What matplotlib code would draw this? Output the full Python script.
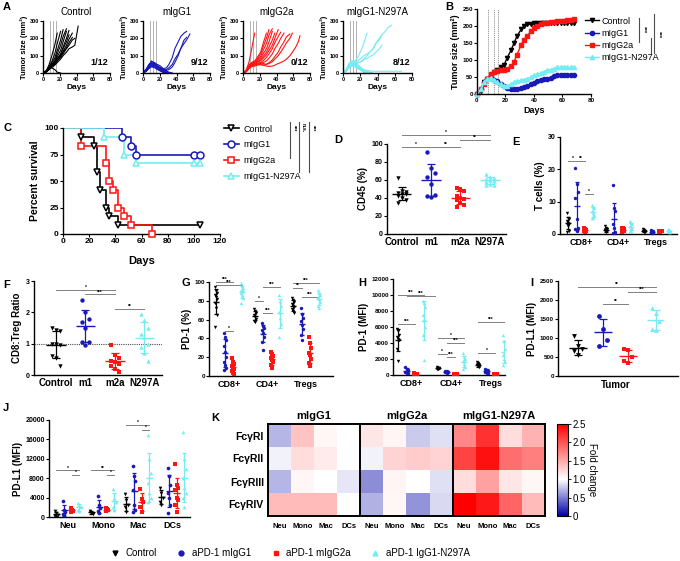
import numpy as np
import matplotlib
matplotlib.use('Agg')
import matplotlib.pyplot as plt
from matplotlib.colors import LinearSegmentedColormap
from matplotlib.lines import Line2D
from matplotlib.font_manager import FontProperties

plt.rcParams['font.family'] = ['Liberation Sans', 'DejaVu Sans']
plt.rcParams['font.weight'] = 'bold'
plt.rcParams['axes.labelweight'] = 'bold'
plt.rcParams['axes.linewidth'] = 1.0

BLACK, BLUE, RED, CYAN = 'black', '#1a1ab8', '#ff1414', '#74ecf2'
colors = [BLACK, BLUE, RED, CYAN]
markers = ['v', 'o', 's', '^']
groups = ['Control', 'mIgG1', 'mIgG2a', 'mIgG1-N297A']
short_groups = ['Control', 'm1', 'm2a', 'N297A']

# A: individual mice
a_days = [0, 4, 7, 10, 14, 17, 21, 24, 28, 31, 35, 38, 42, 45, 49, 52, 56, 59, 63, 66, 68]
a_control = [
    [0, 15, 45, 90, 160, 230],
    [0, 10, 30, 60, 110, 170, 240],
    [0, 12, 35, 55, 85, 130, 190, 250],
    [0, 8, 25, 45, 70, 110, 160, 210, 255],
    [0, 10, 28, 45, 65, 95, 130, 180, 240],
    [0, 6, 22, 38, 55, 75, 105, 150, 200, 245],
    [0, 8, 30, 50, 65, 85, 110, 140, 180, 220],
    [0, 5, 18, 35, 50, 70, 95, 125, 160, 195, 230],
    [0, 9, 25, 42, 60, 80, 100, 120, 145, 175, 205],
    [0, 7, 20, 30, 45, 60, 80, 100, 120, 140, 150, 160, 270],
    [0, 10, 25, 35, 50, 70, 90, 110, 140, 160, 190, 200],
    [0, 10, 25, 30, 20, 5, 0],
]
a_migg1 = [
    [0, 20, 45, 60, 50, 35, 15, 5, 0, 0],
    [0, 15, 40, 55, 45, 30, 20, 10, 5, 0],
    [0, 25, 50, 65, 60, 45, 25, 10, 0],
    [0, 10, 30, 40, 35, 25, 15, 5, 0],
    [0, 18, 35, 50, 55, 50, 40, 25, 10, 0],
    [0, 12, 28, 45, 40, 30, 20, 10, 0],
    [0, 20, 40, 50, 45, 35, 25, 15, 8, 0],
    [0, 15, 35, 70, 55, 40, 30, 20, 10, 5, 0],
    [0, 10, 25, 35, 30, 20, 10, 5, 0],
    [0, 20, 45, 55, 50, 40, 30, 25, 30, 50, 90, 140, 180, 210, 230, 240],
    [0, 15, 40, 50, 45, 35, 25, 20, 20, 30, 50, 80, 110, 140, 170, 190, 225],
    [0, 18, 38, 48, 40, 30, 20, 15, 15, 20, 35, 60, 100, 140, 190, 205],
]
a_migg2a = [
    [0, 20, 60, 130, 230],
    [0, 15, 45, 60, 70, 90, 120, 170, 230],
    [0, 12, 40, 55, 65, 80, 110, 150, 200, 250],
    [0, 10, 35, 50, 60, 75, 95, 130, 170, 220, 255],
    [0, 15, 40, 55, 60, 70, 85, 110, 140, 180, 240],
    [0, 8, 30, 45, 55, 65, 75, 95, 120, 150, 190, 230],
    [0, 12, 38, 52, 58, 62, 70, 85, 105, 130, 160, 200, 250],
    [0, 10, 30, 45, 50, 55, 60, 70, 90, 110, 140, 175, 210, 235],
    [0, 8, 25, 40, 45, 50, 55, 60, 70, 85, 110, 140, 170, 200, 230],
    [0, 10, 28, 40, 48, 52, 50, 45, 50, 60, 75, 95, 120, 150, 180, 210, 225],
    [0, 12, 30, 42, 50, 55, 60, 55, 50, 55, 65, 80, 100, 120, 150, 175, 200, 230],
    [0, 8, 25, 35, 40, 45, 48, 45, 40, 38, 40, 45, 55, 60, 70, 80, 100, 120, 150, 180, 215],
]
a_n297a = [
    [0, 20, 45, 60, 50, 35, 20, 10, 0],
    [0, 15, 40, 55, 45, 30, 15, 5, 0],
    [0, 25, 55, 70, 65, 50, 30, 15, 5, 0],
    [0, 10, 30, 45, 40, 30, 20, 10, 0],
    [0, 18, 40, 50, 45, 35, 25, 15, 10, 5, 0],
    [0, 12, 30, 40, 35, 25, 15, 5, 0],
    [0, 20, 45, 55, 50, 40, 30, 20, 15, 12, 10, 10, 10, 10, 10, 10, 10, 10, 10, 10, 10],
    [0, 15, 35, 50, 40, 30, 20, 10, 5, 0],
    [0, 20, 50, 65, 70, 90, 130, 170, 230],
    [0, 15, 40, 55, 60, 70, 85, 100, 110, 120, 140, 170, 190, 220],
    [0, 12, 35, 50, 55, 60, 65, 75, 85, 95, 105, 120, 140, 160],
    [0, 15, 38, 52, 55, 58, 65, 80, 100, 120, 140, 170, 200, 220, 240, 260, 275],
]
a_free = ['1/12', '9/12', '0/12', '8/12']
treat_days = [8, 12, 15]

# B: mean growth
b_days = [0, 3, 5, 7, 10, 12, 14, 17, 19, 21, 24, 26, 28, 31, 33, 35, 38, 40, 42, 45,
          47, 49, 52, 54, 56, 59, 61, 63, 66, 68]
b_control = [0, 10, 35, 45, 55, 65, 72, 78, 85, 105, 130, 150, 170, 190, 200, 205, 205, 208, 210, 210,
             210, 210, 210, 210, 210, 210, 210, 210, 210, 210]
b_migg1 = [0, 15, 35, 45, 48, 42, 38, 30, 25, 18, 16, 15, 15, 18, 22, 25, 28, 32, 38, 42,
           44, 45, 48, 52, 55, 57, 57, 57, 57, 57]
b_migg2a = [0, 15, 30, 45, 60, 65, 68, 70, 72, 75, 82, 95, 115, 145, 160, 170, 185, 195, 200, 205,
            208, 210, 212, 213, 215, 215, 216, 217, 218, 220]
b_n297a = [0, 15, 35, 45, 48, 42, 35, 28, 25, 24, 30, 35, 38, 40, 42, 45, 50, 55, 58, 62,
           65, 70, 72, 75, 78, 78, 78, 78, 78, 78]

# C: survival
c_times = [[0, 14, 24, 26, 28, 33, 35, 42, 105],
           [0, 45, 52, 56, 100, 105],
           [0, 14, 33, 35, 38, 42, 47, 52, 68],
           [0, 31, 47, 56, 100, 105]]
c_surv = [[100, 91.7, 83.3, 58.3, 41.7, 25, 16.7, 8.3, 8.3],
          [100, 91.7, 83.3, 75, 75, 75],
          [100, 83.3, 66.7, 50, 41.7, 25, 16.7, 8.3, 0],
          [100, 91.7, 75, 66.7, 66.7, 66.7]]

# D: CD45 (%)
d_cd45 = [[62, 48, 47, 46, 45, 44, 42, 40, 38, 35],
          [91, 73, 68, 63, 56, 43, 42, 41],
          [51, 50, 48, 42, 40, 39, 38, 35, 32, 30],
          [67, 63, 62, 61, 60, 59, 58, 56, 55, 54]]

# E: T cells (%)
e_subsets = ['CD8+', 'CD4+', 'Tregs']
e_cd8 = [[6.5, 5, 4.5, 4, 3.5, 3, 3, 2.5, 1, 0.5],
         [20.5, 15.5, 13, 11, 4.5, 2, 1.5, 1],
         [2, 1.5, 1.2, 1, 1, 0.8, 0.8, 0.6],
         [9, 8.5, 8, 7, 6.5, 6, 5, 5]]
e_cd4 = [[2.5, 2, 1.5, 1.2, 1, 1, 0.8, 0.6],
         [15, 8, 7, 3, 2, 0.5, 0.3, 0.2],
         [2, 1.8, 1.5, 1.2, 1, 0.8, 0.6],
         [4, 3.5, 3, 2.5, 2, 1.5, 1, 0.8]]
e_treg = [[1.5, 1.2, 1, 0.8, 0.7, 0.5],
          [1.2, 1, 0.8, 0.6, 0.5, 0.4],
          [1, 0.9, 0.8, 0.7, 0.6],
          [1.5, 1.2, 1, 0.8, 0.6, 0.5]]

# F: CD8:Treg ratio
f_ratio = [[1.5, 1.45, 1.4, 1.0, 1.0, 0.95, 0.6, 0.55, 0.3],
           [2.4, 2.0, 1.8, 1.7, 1.5, 1.05, 1.05, 0.97],
           [0.95, 0.65, 0.55, 0.45, 0.4, 0.35, 0.3, 0.2, 0.1],
           [1.95, 1.75, 1.5, 1.3, 1.2, 1.0, 0.9, 0.7, 0.45]]

# G: PD-1 (%)
g_cd8 = [[95, 90, 88, 86, 84, 82, 78, 72, 65, 52],
         [46, 42, 38, 32, 26, 20, 15, 12, 8, 6],
         [19, 15, 13, 11, 9, 7, 5, 3, 2],
         [99, 96, 94, 92, 91, 90, 88, 86, 83, 78]]
g_cd4 = [[71, 69, 67, 65, 63, 61, 59, 57],
         [56, 53, 51, 49, 46, 42, 36, 28],
         [26, 23, 21, 19, 17, 15, 12, 9],
         [86, 80, 74, 68, 62, 55, 42]]
g_treg = [[83, 81, 79, 77, 75, 73, 71, 69, 67],
          [72, 66, 62, 58, 54, 50, 44, 38],
          [41, 35, 30, 25, 22, 18, 14, 11],
          [91, 88, 86, 84, 82, 79, 75, 72]]

# H: PD-1 (MFI)
h_cd8 = [[5800, 5500, 5000, 4800, 4500, 4400, 3200, 1700],
         [1000, 800, 600, 400, 300, 200],
         [200, 150, 100, 80],
         [9200, 9000, 8500, 7500, 7000, 6000, 5000, 1900]]
h_cd4 = [[1000, 900, 850, 800, 700],
         [500, 450, 400, 350, 300],
         [150, 120, 100, 80],
         [2700, 2300, 2000, 1700, 1400, 1000, 700]]
h_treg = [[1600, 1450, 1300, 1200, 1100, 1000],
          [800, 650, 500, 400, 300, 200],
          [120, 100, 80],
          [5000, 4200, 3200, 2500, 2000, 1600, 1300]]

# I: PD-L1 (MFI) on tumor
i_tumor = [[1050, 800, 700, 650, 550],
           [1580, 1250, 950, 800],
           [720, 680, 500, 400, 350],
           [1800, 1650, 1450, 1250, 1200]]

# J: PD-L1 (MFI) on myeloid cells
j_cells = ['Neu', 'Mono', 'Mac', 'DCs']
j_neu = [[1200, 800, 500, 300], [3200, 1500, 1000, 700, 500],
         [1800, 1500, 1200, 1000], [2800, 2500, 2000, 1500, 1200]]
j_mono = [[1200, 900, 700], [4300, 2500, 1800, 1200, 800],
          [1800, 1600, 1400, 1200], [5800, 4000, 3000, 2000, 1500]]
j_mac = [[4800, 3500, 2500, 2000, 1000], [10600, 8500, 7500, 5500, 2500, 1500, 1000],
         [5800, 3800, 3000, 2000, 1000], [17000, 12000, 9000, 7000, 5000, 4000, 3000]]
j_dcs = [[6000, 5000, 4000, 3000, 2500], [10200, 8500, 6500, 5000, 4000, 2500, 800],
         [11000, 6500, 6000, 5500, 4000, 3500, 2500, 1000],
         [17600, 12000, 10000, 8000, 6000, 5000, 4000, 2000]]

# K: Fc receptor fold change
k_rows = ['FcγRI', 'FcγRII', 'FcγRIII', 'FcγRIV']
k_cells = ['Neu', 'Mono', 'Mac', 'DCs']
k_groups = ['mIgG1', 'mIgG2a', 'mIgG1-N297A']
k_migg1 = [[0.72, 1.35, 1.05, 1.0], [0.95, 1.2, 1.12, 1.0], [0.72, 1.05, 1.0, 0.9], [1.4, 1.4, 1.4, 1.0]]
k_migg2a = [[1.15, 1.06, 0.8, 0.88], [0.95, 1.25, 1.3, 1.25], [0.55, 1.06, 1.0, 0.88], [0.7, 1.05, 0.58, 0.85]]
k_n297a = [[1.7, 2.2, 1.2, 1.45], [2.1, 2.4, 1.85, 1.75], [1.2, 1.55, 1.15, 1.05], [2.5, 2.35, 1.9, 1.4]]

bottom_labels = ['Control', 'aPD-1 mIgG1', 'aPD-1 mIgG2a', 'aPD-1 IgG1-N297A']

W, H = 680, 561
fig = plt.figure(figsize=(6.8, 5.61), dpi=100)


def add_ax(l, t, r, b):
    return fig.add_axes([l / W, 1 - b / H, (r - l) / W, (b - t) / H])


def style(ax, fs=5):
    ax.spines['top'].set_visible(False)
    ax.spines['right'].set_visible(False)
    ax.tick_params(labelsize=fs, length=2, width=0.8, pad=1)


def dots(ax, x, vals, k, w=0.07, s=7, bar=0.18, cap=1.5):
    v = np.sort(np.array(vals, dtype=float))[::-1]
    offs = ((np.arange(len(v)) % 3) - 1) * w
    ax.scatter(x + offs, v, color=colors[k], marker=markers[k], s=s, lw=0, zorder=3, clip_on=False)
    m, sd = v.mean(), v.std(ddof=1)
    ax.hlines(m, x - bar, x + bar, color=colors[k], lw=1.0, zorder=4)
    ax.errorbar(x, m, yerr=sd, color=colors[k], capsize=cap, lw=0.9, capthick=0.9, zorder=4)


def sig(ax, x1, x2, y, t, fs=3.5):
    ax.plot([x1, x2], [y, y], color='0.5', lw=0.7, clip_on=False)
    ax.text((x1 + x2) / 2, y, t, ha='center', va='bottom', fontsize=fs, clip_on=False)


def letter(x, y, t):
    fig.text(x / W, 1 - y / H, t, fontsize=8, weight='bold', va='center', ha='left')


# ---------- A ----------
a_boxes = [(43, 21, 110, 73), (143, 21, 210, 73), (243, 21, 310, 73), (343, 21, 412, 73)]
for k, curves in enumerate([a_control, a_migg1, a_migg2a, a_n297a]):
    ax = add_ax(*a_boxes[k])
    style(ax, 4)
    for d in treat_days:
        ax.axvline(d, color='0.65', lw=0.6)
    for v in curves:
        ax.plot(a_days[:len(v)], v, color=colors[k], lw=0.8)
    ax.set_xlim(0, 80)
    ax.set_ylim(0, 300)
    ax.set_xticks([0, 20, 40, 60, 80])
    ax.set_yticks([0, 100, 200, 300])
    ax.set_title(groups[k], fontsize=7, pad=4)
    ax.set_xlabel('Days', fontsize=6, labelpad=1)
    ax.set_ylabel('Tumor size (mm²)', fontsize=5.5, labelpad=1)
    ax.text(0.98, 0.12, a_free[k], transform=ax.transAxes, ha='right', va='bottom', fontsize=6.5)
letter(3, 7, 'A')

# ---------- B ----------
ax = add_ax(477, 9, 591, 94)
style(ax, 4.5)
for d in treat_days:
    ax.axvline(d, color='0.55', lw=0.6, ls=(0, (1.5, 1)))
handles = []
for k, ser in enumerate([b_control, b_migg1, b_migg2a, b_n297a]):
    h, = ax.plot(b_days, ser, color=colors[k], marker=markers[k], ms=3, lw=1.0, clip_on=False)
    handles.append(h)
ax.set_xlim(0, 80)
ax.set_ylim(0, 250)
ax.set_xticks([0, 20, 40, 60, 80])
ax.set_yticks([0, 50, 100, 150, 200, 250])
ax.set_xlabel('Days', fontsize=6.5, labelpad=2)
ax.set_ylabel('Tumor size (mm²)', fontsize=6.5, labelpad=2)
fig.legend(handles, groups, loc='upper left', bbox_to_anchor=(580 / W, 1 - 12 / H), frameon=False,
           prop=FontProperties(family=['Liberation Sans'], size=6.5, weight='normal'),
           handlelength=1.6, handletextpad=0.3, labelspacing=0.35, borderpad=0)
for x, y0, y1 in [(639, 18, 42), (651, 38, 53), (654, 14, 53)]:
    fig.add_artist(Line2D([x / W, x / W], [1 - y0 / H, 1 - y1 / H], color='0.3', lw=0.8))
fig.text(644 / W, 1 - 30 / H, '***', fontsize=4.5, rotation=270, va='center', ha='center')
fig.text(659 / W, 1 - 35 / H, '***', fontsize=4.5, rotation=270, va='center', ha='center')
letter(445, 7, 'B')

# ---------- C ----------
ax = add_ax(63, 128, 220, 234)
style(ax, 6)
handles = []
for k in range(4):
    ax.step(c_times[k], c_surv[k], where='post', color=colors[k], lw=1.2)
    ax.plot(c_times[k][1:], c_surv[k][1:], ls='none', marker=markers[k], mfc='white', mec=colors[k],
            mew=1.1, ms=5, clip_on=False, zorder=3)
    handles.append(Line2D([], [], color=colors[k], marker=markers[k], mfc='white', mew=1.1, ms=5, lw=1.2))
ax.set_xlim(0, 120)
ax.set_ylim(0, 100)
ax.set_xticks(range(0, 121, 20))
ax.set_yticks([0, 25, 50, 75, 100])
ax.set_xlabel('Days', fontsize=8, labelpad=8)
ax.set_ylabel('Percent survival', fontsize=7.5, labelpad=3)
fig.legend(handles, groups, loc='upper left', bbox_to_anchor=(219 / W, 1 - 120 / H), frameon=False,
           prop=FontProperties(family=['Liberation Sans'], size=6.5, weight='normal'),
           handlelength=1.7, handletextpad=0.5, labelspacing=0.75, borderpad=0)
for x, y0, y1 in [(290, 122, 158), (299, 122, 172), (309, 122, 172)]:
    fig.add_artist(Line2D([x / W, x / W], [1 - y0 / H, 1 - y1 / H], color='0.3', lw=0.8))
for x, t in [(294, '***'), (303, 'n.s.'), (313, '***')]:
    fig.text(x / W, 1 - 128 / H, t, fontsize=4, rotation=270, va='center', ha='center')
letter(3, 128, 'C')

# ---------- D ----------
ax = add_ax(387, 144, 506, 234)
style(ax, 5)
for k in range(4):
    dots(ax, k, d_cd45[k], k, w=0.13, s=10, bar=0.33, cap=3)
ax.set_xlim(-0.5, 3.55)
ax.set_ylim(0, 100)
ax.set_yticks(range(0, 101, 20))
ax.set_xticks(range(4))
ax.set_xticklabels(short_groups, fontsize=7)
ax.tick_params(axis='x', length=0, pad=2)
ax.set_ylabel('CD45 (%)', fontsize=7, labelpad=2)
sig(ax, 0, 3, 110, '*')
sig(ax, 0, 1, 97, '*')
sig(ax, 1, 2, 97, '**')
sig(ax, 2, 3, 104, '**')
letter(334, 140, 'D')

# ---------- grouped dot plots ----------
sub_off = [-0.33, -0.11, 0.11, 0.33]


def grouped(ax, sets, w=0.03, s=6, bar=0.08, cap=1.2):
    for g, st in enumerate(sets):
        for k in range(4):
            dots(ax, g + sub_off[k], st[k], k, w=w, s=s, bar=bar, cap=cap)


# E
ax = add_ax(560, 137, 677, 234)
style(ax, 5)
grouped(ax, [e_cd8, e_cd4, e_treg])
ax.set_xlim(-0.55, 2.55)
ax.set_ylim(0, 30)
ax.set_yticks([0, 10, 20, 30])
ax.set_xticks(range(3))
ax.set_xticklabels(e_subsets, fontsize=6.5)
ax.tick_params(axis='x', length=0, pad=3)
ax.set_ylabel('T cells (%)', fontsize=7, labelpad=2)
sig(ax, -0.33, -0.11, 22.5, '*')
sig(ax, -0.11, 0.11, 22.5, '**')
sig(ax, 0.11, 0.33, 12.5, '*')
letter(512, 142, 'E')

# F
ax = add_ax(34, 281, 162, 375)
style(ax, 5)
ax.axhline(1, color='0.3', lw=0.8, ls=(0, (1, 1)))
for k in range(4):
    dots(ax, k, f_ratio[k], k, w=0.13, s=10, bar=0.33, cap=3)
ax.set_xlim(-0.75, 3.6)
ax.set_ylim(0, 3)
ax.set_yticks([0, 1, 2, 3])
ax.set_xticks(range(4))
ax.set_xticklabels(short_groups, fontsize=7)
ax.tick_params(axis='x', length=0, pad=2)
ax.set_ylabel('CD8:Treg Ratio', fontsize=7, labelpad=3)
sig(ax, 0, 2, 2.72, '*')
sig(ax, 1, 2, 2.57, '***')
sig(ax, 2, 3, 2.1, '**')
letter(3, 285, 'F')

# G
ax = add_ax(209, 282, 333, 376)
style(ax, 4.5)
grouped(ax, [g_cd8, g_cd4, g_treg])
ax.set_xlim(-0.52, 2.7)
ax.set_ylim(0, 100)
ax.set_yticks(range(0, 101, 20))
ax.set_xticks(range(3))
ax.set_xticklabels(e_subsets, fontsize=6.5)
ax.tick_params(axis='x', length=0, pad=3)
ax.set_ylabel('PD-1 (%)', fontsize=7, labelpad=2)
for x1, x2, y, t in [(-0.33, 0.11, 100, '***'), (-0.33, 0.33, 97, '***'), (-0.11, 0.11, 48, '*'),
                     (0.89, 1.33, 95, '***'), (0.67, 0.89, 80, '*'), (0.89, 1.11, 67, '***'),
                     (1.67, 2.33, 99, '***'), (1.67, 1.89, 94, '**'), (1.89, 2.33, 84, '***')]:
    sig(ax, x1, x2, y, t)
letter(181, 283, 'G')

# H
ax = add_ax(393, 279, 505, 375)
style(ax, 4.5)
grouped(ax, [h_cd8, h_cd4, h_treg])
ax.set_xlim(-0.45, 2.35)
ax.set_ylim(0, 12000)
ax.set_yticks(range(0, 12001, 2000))
ax.set_xticks(range(3))
ax.set_xticklabels(e_subsets, fontsize=6.5)
ax.tick_params(axis='x', length=0, pad=3)
ax.set_ylabel('PD-1 (MFI)', fontsize=7, labelpad=2)
for x1, x2, y, t in [(-0.33, 0.33, 10000, '***'), (-0.11, 0.6, 9900, '***'), (-0.33, 0.11, 6400, '***'),
                     (0.67, 1.33, 4600, '*'), (0.89, 1.33, 4000, '***'), (0.67, 0.89, 2600, '*'),
                     (0.89, 1.11, 2200, '***'), (1.67, 2.33, 6600, '***'), (1.67, 2.11, 2800, '*')]:
    sig(ax, x1, x2, y, t)
letter(358, 283, 'H')

# I
ax = add_ax(558, 281, 678, 376)
style(ax, 4.5)
i_pos = [-1.5, -0.5, 0.5, 1.6]
for k in range(4):
    dots(ax, i_pos[k], i_tumor[k], k, w=0.15, s=12, bar=0.35, cap=3)
ax.set_xlim(-2.3, 2.5)
ax.set_ylim(0, 2500)
ax.set_yticks(range(0, 2501, 500))
ax.set_xticks([0])
ax.set_xticklabels(['Tumor'], fontsize=7)
ax.tick_params(axis='x', length=0, pad=3)
ax.set_ylabel('PD-L1 (MFI)', fontsize=7, labelpad=2)
sig(ax, i_pos[0], i_pos[3], 2350, '**')
sig(ax, i_pos[2], i_pos[3], 2200, '***')
sig(ax, i_pos[1], i_pos[2], 1900, '**')
letter(530, 283, 'I')

# J
ax = add_ax(49, 420, 190, 517)
style(ax, 5)
grouped(ax, [j_neu, j_mono, j_mac, j_dcs], w=0.035, s=7, bar=0.1)
ax.set_xlim(-0.54, 3.49)
ax.set_ylim(0, 20000)
ax.set_yticks(range(0, 20001, 4000))
ax.set_xticks(range(4))
ax.set_xticklabels(j_cells, fontsize=6.5)
ax.tick_params(axis='x', length=0, pad=3)
ax.set_ylabel('PD-L1 (MFI)', fontsize=7, labelpad=2)
for g, (t1, t2, y1, y2) in enumerate([('*', '*', 9600, 8600), ('**', '*', 9600, 8600), ('*', '*', 19000, 18000)]):
    sig(ax, g - 0.33, g + 0.33, y1, t1)
    sig(ax, g + 0.11, g + 0.33, y2, t2)
letter(3, 408, 'J')

# ---------- K ----------
cmap = LinearSegmentedColormap.from_list('fold', [(0, '#0000a8'), (0.4, 'white'), (1, '#ff0000')])
mat = np.hstack([np.array(k_migg1), np.array(k_migg2a), np.array(k_n297a)])
ax = add_ax(268, 424, 545, 516)
im = ax.imshow(mat, cmap=cmap, vmin=0, vmax=2.5, aspect='auto', extent=(0, 12, 4, 0))
for s in ax.spines.values():
    s.set_linewidth(1.4)
for x in [4, 8]:
    ax.axvline(x, color='black', lw=1.4)
ax.set_xticks(np.arange(12) + 0.5)
ax.set_xticklabels(k_cells * 3, fontsize=5.5)
ax.set_yticks(np.arange(4) + 0.5)
ax.set_yticklabels(k_rows, fontsize=7.5)
ax.tick_params(length=0, pad=3)
ax.tick_params(axis='x', pad=5)
for g, name in enumerate(k_groups):
    ax.text(g * 4 + 2, -0.15, name, ha='center', va='bottom', fontsize=8)
cax = add_ax(557, 424, 568, 516)
cb = fig.colorbar(im, cax=cax, ticks=[0, 0.5, 1.0, 1.5, 2.0, 2.5])
cb.outline.set_linewidth(0.8)
cb.ax.set_yticklabels(['0', '0.5', '1.0', '1.5', '2.0', '2.5'], fontsize=7, fontweight='normal')
cb.ax.tick_params(length=2, width=0.6, pad=1)
cb.set_label('Fold change', rotation=270, fontsize=7, fontweight='normal', labelpad=8)
letter(211, 418, 'K')

# ---------- bottom legend ----------
handles = [Line2D([], [], ls='none', marker=markers[k], color=colors[k], ms=3.5) for k in range(4)]
fig.legend(handles, bottom_labels, ncol=4, loc='center', bbox_to_anchor=(290 / W, 1 - 553 / H),
           frameon=False, prop=FontProperties(family=['Liberation Sans Narrow', 'Liberation Sans'],
                                              size=7, weight='normal'),
           handlelength=1.0, handletextpad=0.6, columnspacing=2.0)

fig.savefig('out.png', dpi=100)
